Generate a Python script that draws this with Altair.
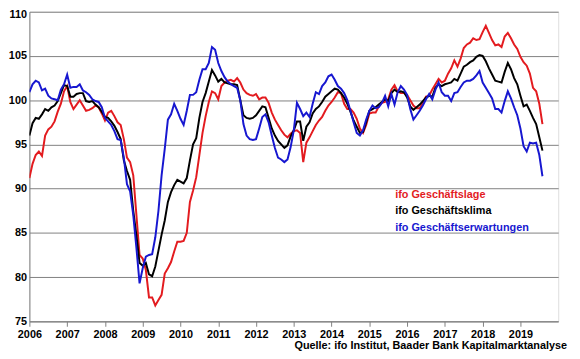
import altair as alt
import pandas as pd

# Monthly ifo index values, Jan 2006 - Aug 2019 (2015 = 100)
lage = [91.2, 92.8, 93.8, 94.2, 93.7, 96.0, 96.7, 97.0, 97.6, 98.7, 99.6, 101.0,
        101.6, 99.8, 99.0, 99.5, 100.0, 99.4, 98.8, 98.9, 99.1, 99.4, 99.2, 98.5,
        97.7, 98.6, 98.8, 98.2, 97.5, 97.2, 95.6, 93.5, 93.0, 91.5, 87.0, 82.5,
        82.1, 80.8, 77.7, 77.7, 76.8, 77.4, 78.0, 80.4, 81.0, 81.7, 82.9, 84.0,
        84.0, 84.1, 85.0, 88.5, 89.8, 91.3, 93.8, 96.3, 98.2, 99.8, 101.0, 100.8,
        100.1, 101.6, 102.0, 102.2, 102.3, 102.1, 102.5, 102.0, 101.2, 100.8, 100.6, 100.5,
        100.7, 100.1, 100.3, 100.3, 99.7, 98.6, 97.8, 97.2, 96.6, 96.1, 95.8, 96.2,
        96.5, 96.6, 96.3, 93.0, 95.2, 95.8, 96.5, 97.2, 97.7, 98.1, 98.8, 99.4,
        99.8, 100.3, 100.9, 100.8, 99.6, 99.0, 99.0, 98.6, 97.9, 96.8, 96.3, 97.2,
        98.5, 98.6, 98.6, 99.3, 99.7, 99.8, 100.1, 101.2, 101.7, 101.0, 100.8, 100.8,
        100.6, 100.0, 99.4, 99.1, 99.1, 99.7, 100.4, 100.5, 101.2, 101.8, 102.4, 102.0,
        102.2, 103.0, 103.6, 104.5, 103.8, 104.7, 105.9, 106.3, 106.5, 107.0, 106.8, 106.9,
        107.7, 108.4, 107.6, 106.8, 106.2, 106.3, 106.0, 107.2, 107.6, 107.0, 106.3, 105.8,
        104.9, 104.3, 103.9, 103.0, 101.4, 101.0, 99.6, 97.3]

klima = [96.0, 97.4, 98.0, 97.9, 98.4, 99.0, 98.8, 99.2, 99.4, 99.9, 100.8, 101.7,
         101.6, 100.4, 100.4, 100.7, 100.8, 100.8, 99.9, 99.8, 99.9, 99.5, 99.2, 98.7,
         98.1, 98.0, 97.6, 97.1, 96.4, 95.6, 93.2, 92.0, 91.0, 87.5, 84.7, 81.6,
         81.3, 81.6, 80.3, 80.1, 81.2, 83.0, 84.8, 86.4, 88.5, 89.6, 90.4, 91.0,
         90.8, 90.6, 91.2, 93.2, 95.0, 95.7, 98.0, 99.8, 100.8, 102.1, 103.4, 102.8,
         102.1, 102.4, 102.0, 101.9, 101.8, 101.8, 101.7, 100.0, 98.3, 98.0, 97.9, 98.0,
         98.3, 98.8, 99.3, 99.2, 98.0, 96.8, 96.0, 95.4, 95.0, 94.6, 94.9, 95.9,
         96.6, 97.6, 97.6, 95.4, 97.0, 97.5, 98.5, 99.0, 99.3, 99.8, 100.4, 100.7,
         101.0, 101.3, 101.2, 100.8, 100.3, 99.6, 98.7, 97.7, 97.0, 96.3, 96.4, 97.5,
         98.8, 99.0, 99.2, 99.5, 99.8, 100.1, 99.9, 100.8, 101.2, 100.9, 101.0, 100.9,
         100.3, 99.3, 98.9, 99.2, 99.5, 99.9, 100.3, 100.5, 100.4, 101.4, 101.8, 101.6,
         101.8, 101.9, 102.0, 102.4, 102.2, 103.0, 103.8, 104.0, 104.3, 104.5, 104.9, 105.1,
         105.0, 104.4, 103.6, 102.9, 102.2, 102.1, 102.0, 103.2, 104.2, 103.5, 102.5, 101.8,
         100.5, 99.3, 99.5, 98.8, 98.0, 97.3, 95.8, 94.3]

erwartungen = [100.9, 101.8, 102.2, 102.0, 101.1, 101.3, 100.5, 100.2, 100.1, 100.0, 101.2, 101.8,
               102.9, 101.4, 101.5, 101.5, 101.8, 101.1, 100.9, 100.6, 100.1, 99.9, 99.8, 99.2,
               98.0, 97.6, 97.2, 96.5, 95.6, 95.5, 93.5, 90.5, 89.7, 87.0, 83.3, 79.3,
               81.0, 82.3, 82.5, 82.6, 84.5, 87.5, 91.5, 94.5, 97.8, 98.4, 99.6, 98.8,
               97.9, 97.2, 98.8, 100.6, 100.6, 100.9, 102.3, 103.5, 103.5, 104.2, 106.0, 105.7,
               104.2, 103.3, 102.6, 102.1, 101.8, 101.6, 101.4, 100.0, 97.3, 96.0, 95.6, 95.5,
               95.6, 96.8, 98.1, 98.4, 97.5, 96.0, 94.6, 93.5, 93.3, 93.0, 93.3, 94.7,
               96.6, 99.7, 99.0, 98.2, 98.6, 98.1, 99.6, 100.9, 100.7, 101.6, 102.0, 102.7,
               102.9, 102.3, 101.6, 101.3, 100.8, 100.0, 98.8, 97.5, 96.3, 96.0, 96.6, 97.8,
               98.8, 99.4, 99.1, 99.2, 99.7, 100.5, 99.3, 100.7, 99.5, 100.9, 101.6, 101.2,
               100.6, 99.0, 97.8, 98.3, 98.8, 99.4, 100.1, 100.7, 100.1, 101.2, 102.0, 100.9,
               100.5, 100.5, 99.9, 100.8, 100.9, 101.5, 102.0, 102.2, 102.2, 102.4, 102.8, 103.3,
               102.0, 101.4, 100.8, 100.2, 99.0, 99.0, 98.6, 99.9, 101.0, 100.2, 99.2, 98.3,
               96.8, 94.8, 94.2, 95.2, 95.1, 95.2, 93.8, 91.4]

series_names = ["ifo Geschäftslage", "ifo Geschäftsklima", "ifo Geschäftserwartungen"]
series_colors = ["#e31b1f", "#000000", "#1717d0"]
year_ticks = list(range(2006, 2020))
value_ticks = list(range(75, 111, 5))
source_text = "Quelle: ifo Institut, Baader Bank Kapitalmarktanalyse"

rows = []
for name, vals in zip(series_names, [lage, klima, erwartungen]):
    for i, v in enumerate(vals):
        rows.append({"t": 2006 + i / 12, "value": v, "series": name})
df = pd.DataFrame(rows)

FONT = "Liberation Sans"
W, H = 536.3, 314.0

lines = alt.Chart(df).mark_line(strokeWidth=2, clip=True).encode(
    x=alt.X("t:Q",
            scale=alt.Scale(domain=[2006, 2020], nice=False, zero=False),
            axis=alt.Axis(values=year_ticks, format="d", title=None, grid=False,
                          tickSize=5, tickColor="#808080", domainColor="#808080",
                          labelFontSize=11, labelFontWeight="bold", labelFont=FONT,
                          labelColor="#000000", labelPadding=2, labelFlush=False)),
    y=alt.Y("value:Q",
            scale=alt.Scale(domain=[75, 110], nice=False, zero=False),
            axis=alt.Axis(values=value_ticks, title=None, grid=True,
                          gridColor="#808080", gridWidth=1, ticks=False,
                          domainColor="#808080",
                          labelFontSize=11, labelFontWeight="bold", labelFont=FONT,
                          labelColor="#000000", labelPadding=3, labelFlush=False,
                          labelOffset=alt.ExprRef(expr="datum.value == 110 ? 2.5 : 0"))),
    color=alt.Color("series:N", scale=alt.Scale(domain=series_names, range=series_colors),
                    legend=None),
)

layers = [lines]
for name, col, yy in zip(series_names, series_colors, [185.7, 202.4, 219.0]):
    layers.append(
        alt.Chart(pd.DataFrame({"label": [name]})).mark_text(
            align="left", baseline="middle", fontSize=11, fontWeight="bold",
            font=FONT, color=col
        ).encode(x=alt.value(371), y=alt.value(yy), text="label:N")
    )

layers.append(
    alt.Chart(pd.DataFrame({"label": [source_text]})).mark_text(
        align="right", baseline="middle", fontSize=11, fontWeight="bold",
        font=FONT, color="#000000"
    ).encode(x=alt.value(545.3), y=alt.value(338.7), text="label:N")
)

chart = alt.layer(*layers).properties(
    width=W, height=H,
    autosize=alt.AutoSizeParams(type="none"),
    padding={"left": 21.7, "top": 1.3, "right": 14, "bottom": 35},
).configure_view(stroke="#808080", strokeWidth=1).configure(background="white")

chart.save("out.html", embed_options={"renderer": "svg", "actions": False})
